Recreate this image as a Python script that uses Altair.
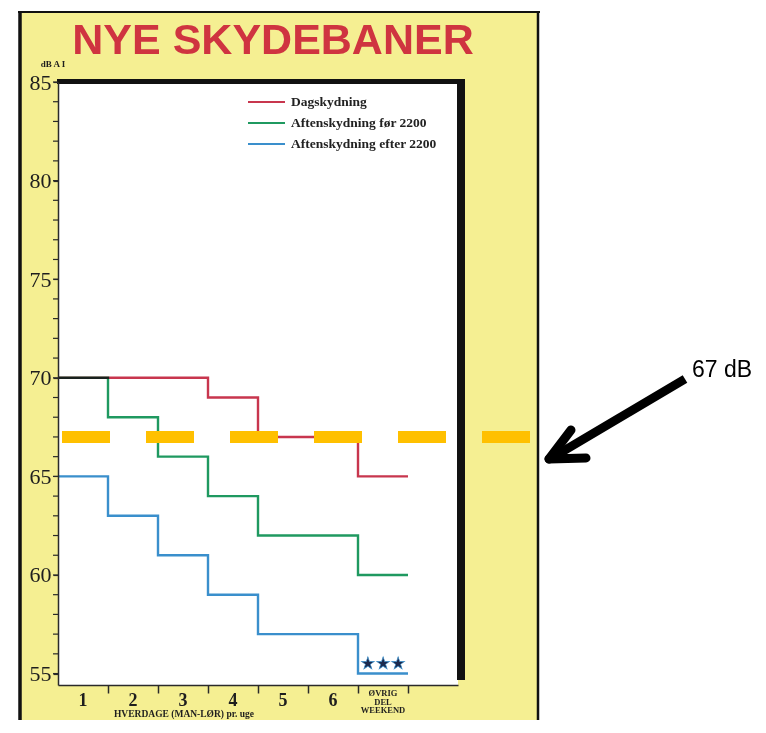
import altair as alt
import pandas as pd

# ---------------- data ----------------
categories = ["1", "2", "3", "4", "5", "6", "ØVRIG\nDEL\nWEEKEND"]
series = ["Dagskydning", "Aftenskydning før 2200", "Aftenskydning efter 2200"]
dagskydning = [70, 70, 70, 69, 67, 67, 65]
aften_foer_2200 = [70, 68, 66, 64, 62, 62, 60]
aften_efter_2200 = [65, 63, 61, 59, 57, 57, 55]
y_label_values = [55, 60, 65, 70, 75, 80, 85]
y_minor_values = list(range(55, 86))
x_tick_values = [1, 2, 3, 4, 5, 6, 7]
limit_db = 67
limit_label = "67 dB"
title_text = "NYE SKYDEBANER"
y_unit = "dB A I"
x_title = "HVERDAGE (MAN-LØR) pr. uge"
stars = "★★★"
stars_db = 55.5

colors = ["#c8364e", "#1f9960", "#3a8fcc"]
YELLOW = "#f5ef92"
INK = "#1e1e1e"

# ---------------- tables ----------------
rows = []
for name, vals in zip(series, [dagskydning, aften_foer_2200, aften_efter_2200]):
    for i, v in enumerate(vals):
        rows.append({"serie": name, "x": i, "db": v})
    rows.append({"serie": name, "x": len(vals), "db": vals[-1]})
steps = pd.DataFrame(rows)

labels = pd.DataFrame({"label": categories, "pos": [i + 0.5 for i in range(len(categories))]})
num_labels = labels.iloc[:-1]
wk_labels = labels.iloc[-1:]
minor = pd.DataFrame({"db": y_minor_values})
one = pd.DataFrame({"k": [0]})

W, H = 400, 603
xs = alt.Scale(domain=[0, 8], nice=False, zero=False)
ys = alt.Scale(domain=[54.42, 85], nice=False, zero=False)

x_axis = alt.Axis(
    values=x_tick_values, labels=False, ticks=True, tickSize=8, title=None,
    grid=False, domainColor="#2a2a2a", domainWidth=1.5, tickColor="#2a2a2a",
    tickWidth=1.5, zindex=1, labelFlush=False)
y_axis = alt.Axis(
    values=y_label_values, labelFont="Liberation Serif", labelFontSize=22,
    labelColor=INK, labelPadding=2, tickSize=5, tickColor="#2a2a2a", tickWidth=1.2,
    domainColor="#2a2a2a", domainWidth=1.5, grid=False, title=None,
    zindex=1, labelOverlap=False)


def box(x, x2, y, y2, color):
    return alt.Chart(one).mark_rect(color=color).encode(
        x=alt.value(x), x2=alt.value(x2), y=alt.value(y), y2=alt.value(y2))


def line(x, x2, y, y2, color, width, cap="butt"):
    return alt.Chart(one).mark_rule(color=color, strokeWidth=width, strokeCap=cap).encode(
        x=alt.value(x), x2=alt.value(x2), y=alt.value(y), y2=alt.value(y2))


layers = []
# poster background and frame
layers.append(box(-38, 480, -70, H + 60, YELLOW))
layers.append(line(-38, -38, -71, H + 60, "#111", 3.5))
layers.append(line(-40, 482, -70, -70, "#111", 2))
layers.append(line(480, 480, -71, H + 60, "#111", 2.5))
# white plot panel with shadow strips
layers.append(box(0, 400, 0, H, "white"))
layers.append(box(-1, 407, -3, 2, "#111"))
layers.append(box(399, 407, -3, H - 5, "#111"))

# step lines
layers.append(alt.Chart(steps).mark_line(
    interpolate="step-after", strokeWidth=2.4, blend="multiply"
).encode(
    x=alt.X("x:Q", scale=xs, axis=x_axis),
    y=alt.Y("db:Q", scale=ys, axis=y_axis),
    color=alt.Color("serie:N", scale=alt.Scale(domain=series, range=colors), legend=None),
))

# minor ticks every dB on the y axis
layers.append(alt.Chart(minor).mark_rule(color="#2a2a2a", strokeWidth=1.2).encode(
    y=alt.Y("db:Q", scale=ys, axis=y_axis), x=alt.value(-5), x2=alt.value(0)))

# 67 dB dashed limit line
layers.append(alt.Chart(one).mark_rule(
    color="#ffc000", strokeWidth=12, strokeDash=[48, 36], strokeCap="butt"
).encode(y=alt.datum(limit_db), x=alt.value(4), x2=alt.value(473)))

# stars above weekend segment
layers.append(alt.Chart(one).mark_text(
    text=stars, font="DejaVu Sans", fontSize=17, color="#1b2a4e",
    stroke="#3a8fcc", strokeWidth=0.6, baseline="middle"
).encode(x=alt.datum(6.5), y=alt.datum(stars_db)))

# legend (manual)
for i, (name, col) in enumerate(zip(series, colors)):
    yy = 20 + 21 * i
    layers.append(line(190, 227, yy, yy, col, 2))
    layers.append(alt.Chart(one).mark_text(
        text=name, font="Liberation Serif", fontWeight="bold", fontSize=13.5,
        color="#222", align="left", baseline="middle"
    ).encode(x=alt.value(233), y=alt.value(yy)))

# title and unit
layers.append(alt.Chart(one).mark_text(
    text=title_text, font="Liberation Sans", fontWeight="bold", fontSize=43,
    color="#cf3440", align="center", baseline="alphabetic"
).encode(x=alt.value(215), y=alt.value(-28)))
layers.append(alt.Chart(one).mark_text(
    text=y_unit, font="Liberation Serif", fontWeight="bold", fontSize=9,
    color=INK, align="center", baseline="middle"
).encode(x=alt.value(-5), y=alt.value(-18)))

# x category labels
layers.append(alt.Chart(num_labels).mark_text(
    font="Liberation Serif", fontWeight="bold", fontSize=18, color=INK,
    baseline="middle"
).encode(x=alt.X("pos:Q", scale=xs), y=alt.value(H + 16), text="label:N"))
layers.append(alt.Chart(wk_labels).mark_text(
    font="Liberation Serif", fontWeight="bold", fontSize=8.5, color=INK,
    baseline="middle", lineBreak="\n", lineHeight=8.5
).encode(x=alt.X("pos:Q", scale=xs), y=alt.value(H + 8), text="label:N"))
layers.append(alt.Chart(one).mark_text(
    text=x_title, font="Liberation Serif", fontWeight="bold", fontSize=9.5,
    color=INK, align="center", baseline="alphabetic"
).encode(x=alt.value(126), y=alt.value(H + 32)))

# arrow annotation
layers.append(line(627, 497, 297, 374, "#000", 9))
layers.append(line(491, 513, 377, 348, "#000", 9, cap="round"))
layers.append(line(491, 528, 377, 376, "#000", 9, cap="round"))
layers.append(alt.Chart(one).mark_text(
    text=limit_label, font="Liberation Sans", fontSize=23, color="#000",
    align="left", baseline="alphabetic"
).encode(x=alt.value(634), y=alt.value(295)))

chart = alt.layer(*layers).properties(
    width=W, height=H,
    autosize=alt.AutoSizeParams(type="none"),
    padding={"left": 50, "top": 74, "right": 300, "bottom": 35},
    background="white",
).configure_view(stroke=None)

chart.save("out.html", embed_options={"renderer": "svg", "actions": False})
